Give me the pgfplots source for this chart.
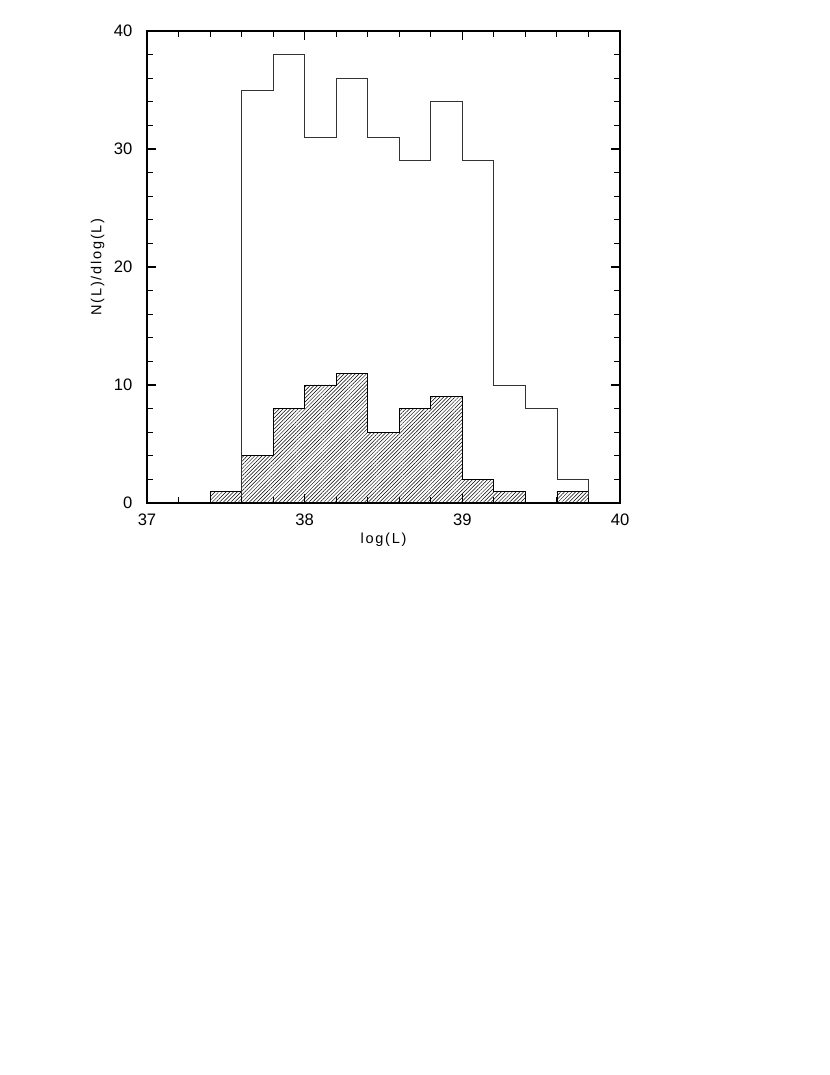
\documentclass[border=0pt]{standalone}
\usepackage{pgfplots}
\pgfplotsset{compat=1.18}
\usepackage{fontspec}
\setmainfont{Liberation Sans}
\newfontfamily\lblfont[LetterSpace=12]{Liberation Sans}
\usetikzlibrary{patterns.meta}
\begin{document}
\begin{tikzpicture}
  % page frame 830 x 1075 px (1 px = 0.01in)
  \path[use as bounding box] (0,0) rectangle (8.30in,10.75in);
  \begin{axis}[
      at={(1.47in,5.72in)}, anchor=south west,
      scale only axis,
      width=4.73in, height=4.72in,
      xmin=37, xmax=40, ymin=0, ymax=40,
      xtick={37,38,39,40}, ytick={0,10,20,30,40},
      minor x tick num=4, minor y tick num=4,
      tick align=inside,
      major tick length=6.5pt, minor tick length=4.3pt,
      every tick/.style={black, line width=0.8pt},
      axis line style={line width=1.3pt},
      tick label style={font=\fontsize{12}{14}\selectfont},
      /pgf/number format/assume math mode=true,
      xlabel={\lblfont\fontsize{10.5}{12}\selectfont log(L)},
      ylabel={\lblfont\fontsize{10.5}{12}\selectfont N(L)/dlog(L)},
      xlabel style={yshift=1pt},
      ylabel style={yshift=0pt},
      xticklabel style={yshift=-4pt},
      yticklabel style={xshift=-7pt},
      axis on top,
    ]
    % hatched histogram
    \addplot[const plot, draw=black, line width=0.6pt,
      pattern={Lines[angle=45, distance=1.9pt, line width=0.35pt]}]
      coordinates {(37.4,0)(37.4,1)(37.6,4)(37.8,8)(38.0,10)(38.2,11)(38.4,6)
        (38.6,8)(38.8,9)(39.0,2)(39.2,1)(39.4,0)(39.6,1)(39.8,1)(39.8,0)} \closedcycle;
    % open histogram
    \addplot[const plot, draw=black!80, line width=0.6pt, mark=none]
      coordinates {(37.6,0)(37.6,35)(37.8,38)(38.0,31)(38.2,36)(38.4,31)(38.6,29)
        (38.8,34)(39.0,29)(39.2,10)(39.4,8)(39.6,2)(39.8,2)(39.8,0)};
  \end{axis}
\end{tikzpicture}
\end{document}
